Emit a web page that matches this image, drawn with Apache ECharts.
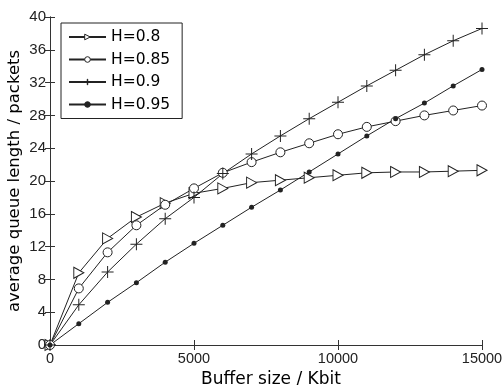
<!DOCTYPE html>
<html>
<head>
<meta charset="utf-8">
<script src="https://cdn.jsdelivr.net/npm/echarts@6/dist/echarts.min.js"></script>
<style>
  html, body { margin: 0; padding: 0; background: #fff; }
  #chart { width: 504px; height: 385px; }
</style>
</head>
<body>
<div id="chart"></div>
<script>
// Buffer sizes (Kbit) at which the average queue length was measured
const bufferSizes = [0, 1000, 2000, 3000, 4000, 5000, 6000, 7000, 8000, 9000, 10000, 11000, 12000, 13000, 14000, 15000];

// Average queue length (packets) for each Hurst parameter
const queueH080 = [0, 8.8, 13.0, 15.6, 17.3, 18.5, 19.1, 19.8, 20.1, 20.4, 20.7, 21.0, 21.1, 21.1, 21.2, 21.3];
const queueH085 = [0, 6.9, 11.3, 14.6, 17.1, 19.1, 21.0, 22.3, 23.5, 24.6, 25.7, 26.6, 27.3, 28.0, 28.6, 29.2];
const queueH090 = [0, 4.9, 8.9, 12.3, 15.4, 18.0, 20.9, 23.3, 25.5, 27.6, 29.6, 31.6, 33.5, 35.4, 37.1, 38.6];
const queueH095 = [0, 2.6, 5.2, 7.6, 10.1, 12.4, 14.6, 16.8, 18.9, 21.1, 23.3, 25.5, 27.6, 29.5, 31.6, 33.6];

const seriesNames = ['H=0.8', 'H=0.85', 'H=0.9', 'H=0.95'];

const xTicks = { min: 0, max: 15000, interval: 5000 };
const yTicks = { min: 0, max: 40, interval: 4 };

const ink = '#222';
const tickFont = '"Liberation Sans", Arial, sans-serif';
const textFont = '"DejaVu Sans", sans-serif';

function pairs(values) {
  return bufferSizes.map((x, i) => [x, values[i]]);
}

const triangleRight = 'path://M0,0L10,5.5L0,11Z';
const plusSign = 'path://M5.5,0h1v5.5h5.5v1h-5.5v5.5h-1v-5.5h-5.5v-1h5.5z';

function lineSeries(name, values, symbol, size, fill, border) {
  return {
    name: name,
    type: 'line',
    data: pairs(values),
    symbol: symbol,
    symbolSize: size,
    showAllSymbol: true,
    animation: false,
    lineStyle: { color: ink, width: 1 },
    itemStyle: { color: fill, borderColor: ink, borderWidth: border },
    emphasis: { disabled: true }
  };
}

const axisLineStyle = { lineStyle: { color: '#333', width: 1 } };
const innerTicks = { inside: true, length: 5, lineStyle: { color: '#333' } };

const chart = echarts.init(document.getElementById('chart'), null, { renderer: 'canvas' });
chart.setOption({
  backgroundColor: '#fff',
  animation: false,
  grid: { left: 50, right: 22, top: 17, bottom: 40, outerBoundsMode: 'none', containLabel: false },
  legend: {
    orient: 'vertical',
    left: 61,
    top: 23,
    data: seriesNames,
    backgroundColor: '#fff',
    borderColor: '#222',
    borderWidth: 1,
    padding: [6, 12, 6, 7],
    itemWidth: 37,
    itemHeight: 7,
    itemGap: 6.5,
    itemStyle: { borderWidth: 1 },
    textStyle: { fontFamily: textFont, fontSize: 15.5, color: '#000', lineHeight: 16 },
    selectedMode: false
  },
  xAxis: [
    {
      type: 'value', position: 'bottom',
      min: xTicks.min, max: xTicks.max, interval: xTicks.interval,
      name: 'Buffer size / Kbit', nameLocation: 'middle', nameGap: 23,
      nameTextStyle: { fontFamily: textFont, fontSize: 17, color: '#000', padding: [0, 0, 0, 10] },
      axisLine: axisLineStyle,
      axisTick: innerTicks,
      axisLabel: { fontFamily: tickFont, fontSize: 14.5, color: '#222', margin: 6, formatter: v => String(v) },
      splitLine: { show: false }
    },
    {
      type: 'value', position: 'top',
      min: xTicks.min, max: xTicks.max, interval: xTicks.interval,
      axisLine: axisLineStyle,
      axisTick: innerTicks,
      axisLabel: { show: false },
      splitLine: { show: false }
    }
  ],
  yAxis: [
    {
      type: 'value', position: 'left',
      min: yTicks.min, max: yTicks.max, interval: yTicks.interval,
      name: 'average queue length / packets', nameLocation: 'middle', nameGap: 27,
      nameMoveOverlap: false,
      nameTextStyle: { fontFamily: textFont, fontSize: 16.5, color: '#000' },
      axisLine: axisLineStyle,
      axisTick: innerTicks,
      axisLabel: { fontFamily: tickFont, fontSize: 15, color: '#222', margin: 4 },
      splitLine: { show: false }
    },
    {
      type: 'value', position: 'right',
      min: yTicks.min, max: yTicks.max, interval: yTicks.interval,
      axisLine: axisLineStyle,
      axisTick: innerTicks,
      axisLabel: { show: false },
      splitLine: { show: false }
    }
  ],
  series: [
    lineSeries(seriesNames[0], queueH080, triangleRight, [10, 11], '#fff', 1),
    lineSeries(seriesNames[1], queueH085, 'circle', 9, '#fff', 1),
    lineSeries(seriesNames[2], queueH090, plusSign, 12, ink, 0),
    lineSeries(seriesNames[3], queueH095, 'circle', 5, ink, 0)
  ]
});
</script>
</body>
</html>
